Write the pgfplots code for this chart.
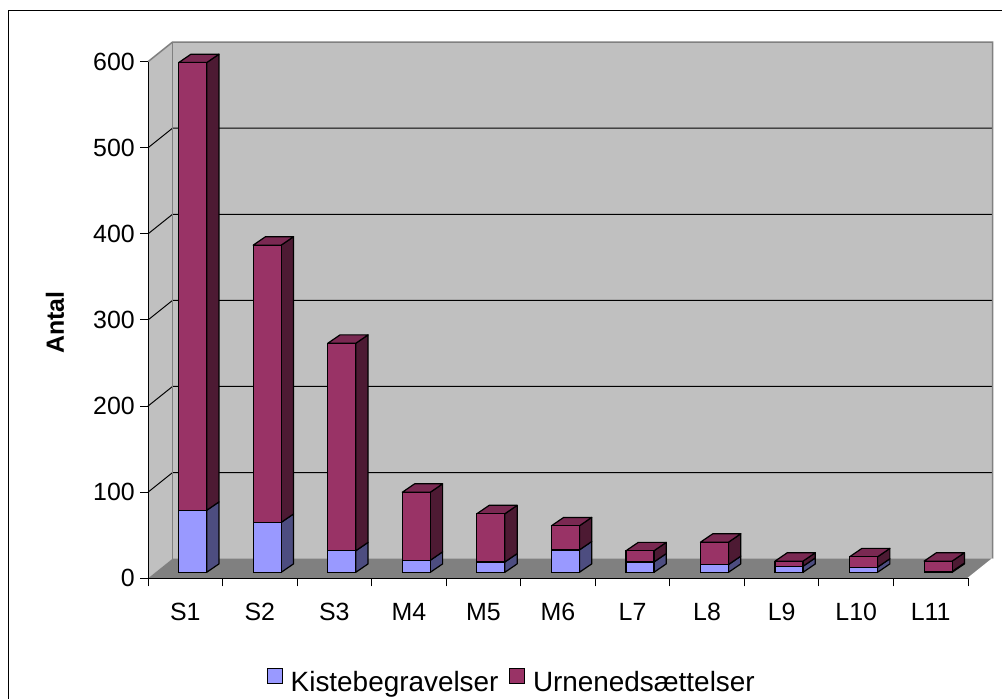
\documentclass[border=0pt]{standalone}
\usepackage{fontspec}
\setmainfont{Liberation Sans}
\usepackage{pgfplots}
\usepackage{pgfplotstable}
\pgfplotsset{compat=1.18}
\definecolor{kiste}{HTML}{9999FF}
\definecolor{kisteside}{HTML}{4D4D80}
\definecolor{urne}{HTML}{993366}
\definecolor{urneside}{HTML}{4D1A33}
\definecolor{urnetop}{HTML}{7A2952}
\definecolor{wall}{HTML}{C0C0C0}
\definecolor{floorc}{HTML}{808080}
\pgfdeclareplotmark{nomark}{}

\pgfplotstableread{
x k u
0 72 520
1 58 322
2 25 241
3 14 79
4 12 56
5 26 28
6 12 13
7 9 26
8 7 6
9 6 12
10 1 12
}\data

\pgfplotsset{common/.style={
  at={(148bp,120.7bp)}, anchor=south west,
  scale only axis, width=820bp, height=516.6bp,
  xmin=-0.5, xmax=10.5, ymin=0, ymax=600,
  clip=false}}

\begin{document}
\begin{tikzpicture}
\useasboundingbox (0,0) rectangle (1002bp,699bp);
\draw[line width=1bp] (8bp,-20bp) rectangle (1030bp,688bp);
% ---------- background: walls, floor, gridlines, bar depth faces
\begin{axis}[common, hide axis]
\addplot[fill=wall, draw=none] coordinates {(-0.1714,22.76) (10.8286,22.76) (10.8286,622.76) (-0.1714,622.76)} -- cycle;
\addplot[fill=wall, draw=none] coordinates {(-0.5,0) (-0.1714,22.76) (-0.1714,622.76) (-0.5,600)} -- cycle;
\addplot[fill=floorc, draw=none] coordinates {(-0.5,0) (10.5,0) (10.8286,22.76) (-0.1714,22.76)} -- cycle;
\addplot[black, line width=1bp] coordinates {(-0.5,100) (-0.1714,122.76) (10.8286,122.76)};
\addplot[black, line width=1bp] coordinates {(-0.5,200) (-0.1714,222.76) (10.8286,222.76)};
\addplot[black, line width=1bp] coordinates {(-0.5,300) (-0.1714,322.76) (10.8286,322.76)};
\addplot[black, line width=1bp] coordinates {(-0.5,400) (-0.1714,422.76) (10.8286,422.76)};
\addplot[black, line width=1bp] coordinates {(-0.5,500) (-0.1714,522.76) (10.8286,522.76)};
\addplot[floorc, line width=1.5bp] coordinates {(-0.5,600) (-0.1714,622.76) (10.8286,622.76) (10.8286,22.76)};
\addplot[floorc, line width=1.5bp] coordinates {(-0.1714,22.76) (-0.1714,622.76)};
\addplot[white, line width=1.2bp] coordinates {(10.5,0) (10.8286,22.76)};
% 3D side and top faces of the bars
\addplot[only marks, mark=nomark, scatter,
  visualization depends on={\thisrow{k} \as \kv},
  visualization depends on={\thisrow{u} \as \uv},
  scatter/@pre marker code/.code={%
    \pgfmathsetmacro\hk{\kv*0.861}%
    \pgfmathsetmacro\ht{(\kv+\uv)*0.861}%
    \filldraw[fill=kisteside, draw=black, line width=1.2bp, line join=round]
      (21.4bp,6bp) -- (33.7bp,14.4bp) -- (33.7bp,14.4bp+\hk bp) -- (21.4bp,6bp+\hk bp) -- cycle;
    \filldraw[fill=urneside, draw=black, line width=1.2bp, line join=round]
      (21.4bp,6bp+\hk bp) -- (33.7bp,14.4bp+\hk bp) -- (33.7bp,14.4bp+\ht bp) -- (21.4bp,6bp+\ht bp) -- cycle;
    \filldraw[fill=urnetop, draw=black, line width=1.2bp, line join=round]
      (-6.6bp,6bp+\ht bp) -- (21.4bp,6bp+\ht bp) -- (33.7bp,14.4bp+\ht bp) -- (5.7bp,14.4bp+\ht bp) -- cycle;
  },
  scatter/@post marker code/.code={},
] table[x=x, y expr=0] {\data};
\end{axis}
% ---------- main axis: bar fronts, ticks, labels, legend
\begin{axis}[common,
  ybar stacked,
  bar width=28bp,
  /pgf/bar shift=7.4bp,
  axis lines*=left,
  axis line style={black, line width=1bp, -},
  tick align=outside,
  major tick length=8bp,
  tick style={black, line width=1bp},
  xtick={-0.5,0.5,...,10.5},
  x tick label as interval,
  xticklabels={S1,S2,S3,M4,M5,M6,L7,L8,L9,L10,L11},
  ytick={0,100,...,600},
  /pgf/number format/assume math mode=true,
  tick label style={font=\fontsize{25}{28}\selectfont},
  xticklabel style={anchor=base, inner sep=0pt, yshift=-33.7bp},
  yticklabel style={anchor=east, inner sep=0pt, xshift=-5bp},
  every axis y label/.style={at={(axis description cs:-0.1134,0.495)}, rotate=90, anchor=center},
  ylabel={\fontsize{25}{28}\selectfont\bfseries Antal},
  legend columns=2,
  legend style={draw=none, fill=none, at={(axis description cs:0.4448,-0.199)}, anchor=center,
    font=\fontsize{28}{32}\selectfont,
    nodes={inner xsep=4bp},
    /tikz/every odd column/.append style={column sep=4bp},
    /tikz/every even column/.append style={column sep=6.5bp}},
  legend image code/.code={\draw[#1, line width=1bp, draw=black] (0bp,-7.5bp) rectangle (15bp,7.5bp);},
]
\addplot[fill=kiste, draw=black, line width=1.2bp, yshift=6bp] table[x=x, y=k] {\data};
\addlegendentry{Kistebegravelser}
\addplot[fill=urne, draw=black, line width=1.2bp, yshift=6bp] table[x=x, y=u] {\data};
\addlegendentry{Urnenedsættelser}
\end{axis}
\end{tikzpicture}
\end{document}
